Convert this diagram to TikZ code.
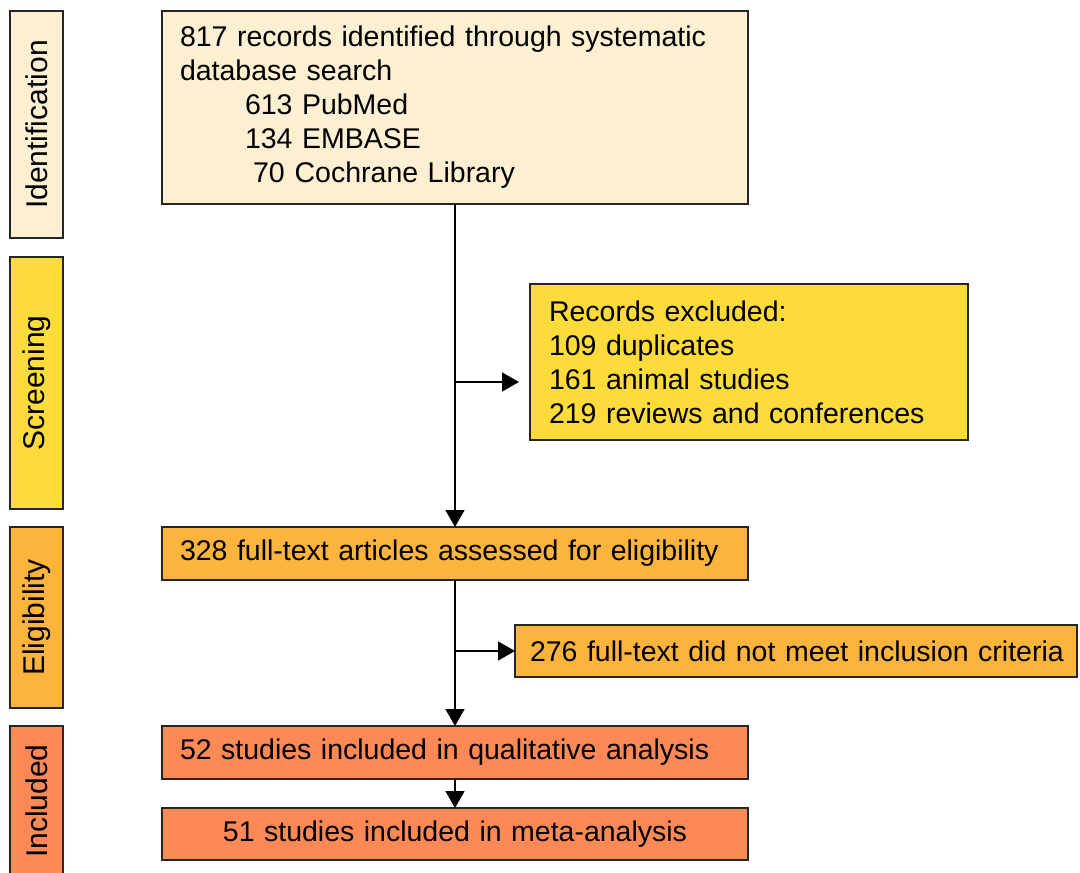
\documentclass[tikz,border=0pt]{standalone}
\usepackage{fontspec}
\setmainfont[WordSpace=0.72]{Liberation Sans}
\usetikzlibrary{arrows.meta}
\definecolor{cIdent}{HTML}{FCEFD2}
\definecolor{cScreen}{HTML}{FDDB3A}
\definecolor{cElig}{HTML}{FCB43C}
\definecolor{cIncl}{HTML}{FD8A56}
\begin{document}
\begin{tikzpicture}[x=1pt,y=-1pt,
  box/.style={draw=black!85,line width=1.8pt,inner ysep=0pt,outer sep=0pt,
    font=\fontsize{28.5}{34}\selectfont,anchor=north west},
  lbox/.style={box,align=left},
  side/.style={draw=black!85,line width=1.8pt,inner sep=0pt,outer sep=0pt,
    rotate=90,minimum height=53pt,font=\fontsize{30}{34}\selectfont},
  arr/.style={line width=1.5pt,draw=black,-{Triangle[length=17pt,width=19pt]}}]
\fill[white] (0,0) rectangle (1080,873);
\useasboundingbox (0,0) rectangle (1080,873);
\clip (0,0) rectangle (1080,873);
% side labels
\node[side,fill=cIdent,minimum width=227pt] (sId) at (36.5,124.5) {Identification};
\node[side,fill=cScreen,minimum width=252pt] (sScr) at (36.5,383) {Screening};
\node[side,fill=cElig,minimum width=181pt] (sElig) at (36.5,617.5) {Eligibility};
\node[side,fill=cIncl,minimum width=150pt] (sIncl) at (36.5,801) {Included};
% main boxes
\node[lbox,fill=cIdent,inner xsep=18pt,text width=550pt,minimum height=193pt] (id) at (162,11)
 {817 records identified through systematic\\
  database search\\
  \hspace*{65pt}613 PubMed\\
  \hspace*{65pt}134 EMBASE\\
  \hspace*{73pt}70\hspace{10pt}Cochrane Library};
\node[lbox,fill=cScreen,inner xsep=19pt,text width=400pt,minimum height=156pt] (excl) at (530,284)
 {Records excluded:\\
  109 duplicates\\
  161 animal studies\\
  219 reviews and conferences};
\node[lbox,fill=cElig,inner xsep=18pt,text width=550pt,minimum height=53pt] (elig) at (162,527)
 {328 full-text articles assessed for eligibility};
\node[lbox,fill=cElig,inner xsep=15pt,text width=532pt,minimum height=52pt] (ex2) at (515,625)
 {\mbox{276 full-text did not meet inclusion criteria}};
\node[lbox,fill=cIncl,inner xsep=18pt,text width=550pt,minimum height=53pt] (inc1) at (162,726)
 {52 studies included in qualitative analysis};
\node[box,fill=cIncl,align=center,inner xsep=18pt,text width=550pt,minimum height=52pt] (inc2) at (162,808)
 {51 studies included in meta-analysis};
% connectors
\coordinate (j1) at (id.south |- 0,382);
\draw[arr] (id.south) -- (elig.north);
\draw[arr,shorten >=11pt] (j1) -- (j1 -| excl.west);
\draw[arr] (elig.south) -- (inc1.north);
\draw[arr] (elig.south |- ex2.west) -- (ex2.west);
\draw[arr] (inc1.south) -- (inc2.north);
\end{tikzpicture}
\end{document}
